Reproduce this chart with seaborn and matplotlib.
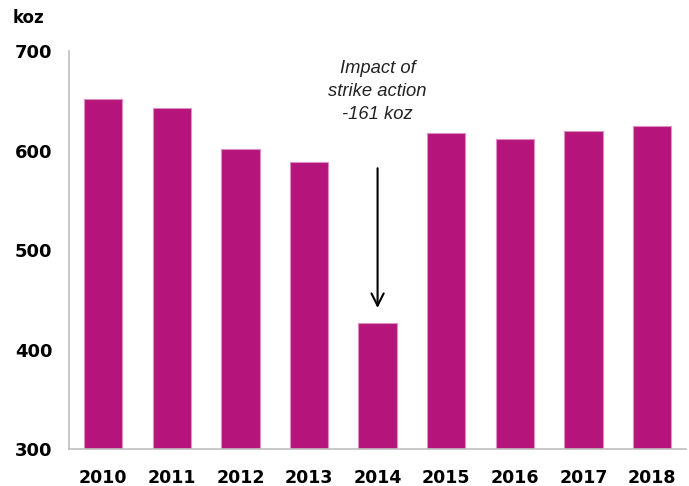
import matplotlib
matplotlib.use("Agg")
import matplotlib.pyplot as plt
import seaborn as sns
import pandas as pd
import numpy as np

years = ["2010", "2011", "2012", "2013", "2014", "2015", "2016", "2017", "2018"]
production = [652, 643, 602, 588, 427, 618, 612, 620, 625]
y_ticks = [300, 400, 500, 600, 700]
unit_label = "koz"
annotation = "Impact of\nstrike action\n-161 koz"

df = pd.DataFrame({"year": years, "koz": production})

sns.set_style("white")
plt.rcParams["font.family"] = ["DejaVu Sans"]

fig = plt.figure(figsize=(6.89, 4.86), dpi=100)
ax = fig.add_axes([0.1, 0.076, 0.896, 0.819])

sns.barplot(data=df, x="year", y="koz", color="#B5147A", saturation=1,
            width=0.56, edgecolor="#dc8fc0", linewidth=0.8, ax=ax)

ax.set_ylim(300, 700)
ax.set_xlim(-0.5, len(years) - 0.5)
ax.set_yticks(y_ticks)
ax.set_yticklabels([str(v) for v in y_ticks], fontsize=13, fontweight="bold", color="black")
ax.set_xticklabels(years, fontsize=12.5, fontweight="bold", color="black")
ax.set_xlabel("")
ax.set_ylabel("")

for s in ["top", "right"]:
    ax.spines[s].set_visible(False)
for s in ["left", "bottom"]:
    ax.spines[s].set_color("#bfbfbf")
    ax.spines[s].set_linewidth(1.2)

ax.tick_params(axis="x", which="major", length=0, pad=14)
ax.set_xticks(np.arange(-0.5, len(years)), minor=True)
ax.tick_params(axis="x", which="minor", length=6, color="#bfbfbf", width=1.2, direction="out")
ax.tick_params(axis="y", which="major", length=6, color="#bfbfbf", width=1.2, direction="out", pad=6)

fig.text(13 / 689, 1 - 18 / 486, unit_label, fontsize=12, fontweight="bold", va="center", ha="left", color="black")

i2014 = years.index("2014")
ax.text(i2014, 691, annotation, ha="center", va="top", fontsize=13.2,
        fontstyle="italic", color="#222222", linespacing=1.45,
        family=["Liberation Sans", "DejaVu Sans"])
ax.annotate("", xy=(i2014, production[i2014] + 12), xytext=(i2014, 585),
            arrowprops=dict(arrowstyle="->", color="black", lw=1.5, mutation_scale=22))

fig.savefig("out.png", dpi=100)
